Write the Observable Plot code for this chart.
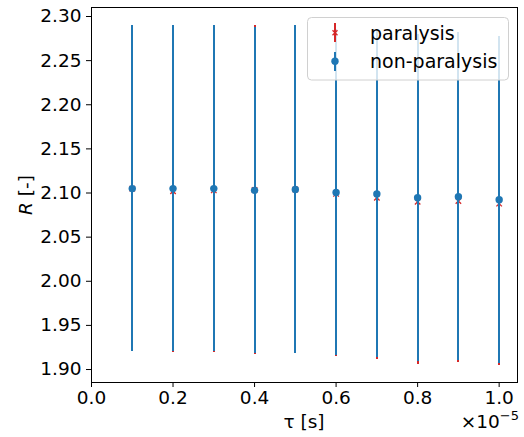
<!DOCTYPE html>
<html>
<head>
<meta charset="utf-8">
<script src="https://cdn.jsdelivr.net/npm/d3@7"></script>
<script src="https://cdn.jsdelivr.net/npm/@observablehq/plot@0.6"></script>
<style>
  html, body { margin: 0; padding: 0; background: #fff; }
  #chart { position: relative; width: 524px; height: 437px; }
</style>
</head>
<body>
<div id="chart"></div>
<script>
const tau = [1e-6, 2e-6, 3e-6, 4e-6, 5e-6, 6e-6, 7e-6, 8e-6, 9e-6, 1e-5];
const nonParalysisMean = [2.105, 2.105, 2.105, 2.103, 2.104, 2.1006, 2.099, 2.0946, 2.0957, 2.0923];
const nonParalysisErr  = [0.185, 0.185, 0.185, 0.185, 0.1855, 0.185, 0.185, 0.185, 0.1857, 0.185];
const paralysisMean = [2.105, 2.102, 2.103, 2.1035, 2.104, 2.099, 2.0946, 2.090, 2.091, 2.088];
const paralysisErr  = [0.185, 0.183, 0.184, 0.186, 0.185, 0.184, 0.183, 0.184, 0.1835, 0.183];
const xTicks = [0, 0.2e-5, 0.4e-5, 0.6e-5, 0.8e-5, 1.0e-5];
const yTicks = [1.90, 1.95, 2.00, 2.05, 2.10, 2.15, 2.20, 2.25, 2.30];
const seriesNames = ["paralysis", "non-paralysis"];

const blue = "#1f77b4", red = "#d62728";
const par = tau.map((t, i) => ({t, m: paralysisMean[i], lo: paralysisMean[i] - paralysisErr[i], hi: paralysisMean[i] + paralysisErr[i]}));
const non = tau.map((t, i) => ({t, m: nonParalysisMean[i], lo: nonParalysisMean[i] - nonParalysisErr[i], hi: nonParalysisMean[i] + nonParalysisErr[i]}));

const W = 524, H = 437;
const plot = Plot.plot({
  width: W, height: H,
  marginLeft: 91, marginRight: 7, marginTop: 7, marginBottom: 55,
  style: {fontSize: "18.5px", fontFamily: "DejaVu Sans", color: "#000", background: "#fff"},
  x: {domain: [0, 1.045e-5]},
  y: {domain: [1.8853, 2.3102]},
  marks: [
    Plot.ruleX(par, {x: "t", y1: "lo", y2: "hi", stroke: red, strokeWidth: 2, shapeRendering: "crispEdges"}),
    Plot.dot(par, {x: "t", y: "m", symbol: "times", r: 2.6, stroke: red, strokeWidth: 1.3}),
    Plot.ruleX(non, {x: "t", y1: "lo", y2: "hi", stroke: blue, strokeWidth: 2, shapeRendering: "crispEdges"}),
    Plot.dot(non, {x: "t", y: "m", r: 3.7, fill: blue, stroke: "none"}),
    Plot.axisX({ticks: xTicks, tickFormat: d => (d * 1e5).toFixed(1), tickSize: 5, tickPadding: 3, label: null, stroke: "#000"}),
    Plot.axisY({ticks: yTicks, tickFormat: d => d.toFixed(2), tickSize: 5, tickPadding: 5, label: null, stroke: "#000"}),
    Plot.frame({stroke: "#000", strokeWidth: 1})
  ]
});
document.getElementById("chart").appendChild(plot);

const svg = d3.select(plot);
const ff = "DejaVu Sans";
// x label
svg.append("text").attr("x", 304).attr("y", 428).attr("text-anchor", "middle")
  .attr("font-family", ff).attr("font-size", "18.5px").attr("fill", "#000").text("τ [s]");
// y label
const yl = svg.append("text").attr("transform", "translate(32,195) rotate(-90)").attr("text-anchor", "middle")
  .attr("font-family", ff).attr("font-size", "18.5px").attr("fill", "#000");
yl.append("tspan").attr("font-style", "italic").text("R");
yl.append("tspan").text(" [-]");
// offset text
const off = svg.append("text").attr("x", 519).attr("y", 428).attr("text-anchor", "end")
  .attr("font-family", ff).attr("font-size", "18.5px").attr("fill", "#000");
off.append("tspan").text("×10");
off.append("tspan").attr("dy", -8).attr("font-size", "13px").text("−5");

// legend
const lg = svg.append("g").attr("text-anchor", "start");
lg.append("rect").attr("x", 307.5).attr("y", 17.5).attr("width", 201).attr("height", 62.5).attr("rx", 4)
  .attr("fill", "rgba(255,255,255,0.8)").attr("stroke", "#d0d0d0").attr("stroke-width", 1);
const mx = 335;
lg.append("line").attr("x1", mx).attr("x2", mx).attr("y1", 22.7).attr("y2", 41.7).attr("stroke", red).attr("stroke-width", 2).attr("shape-rendering", "crispEdges");
lg.append("path").attr("d", `M${mx-2.5},${32.7-2.5}L${mx+2.5},${32.7+2.5}M${mx-2.5},${32.7+2.5}L${mx+2.5},${32.7-2.5}`).attr("stroke", red).attr("stroke-width", 1.3).attr("fill", "none");
lg.append("line").attr("x1", mx).attr("x2", mx).attr("y1", 51.7).attr("y2", 70.7).attr("stroke", blue).attr("stroke-width", 2).attr("shape-rendering", "crispEdges");
lg.append("circle").attr("cx", mx).attr("cy", 61.2).attr("r", 3.7).attr("fill", blue);
lg.append("text").attr("x", 370).attr("y", 40).attr("text-anchor", "start").attr("font-family", ff).attr("font-size", "19px").attr("fill", "#000").text(seriesNames[0]);
lg.append("text").attr("x", 370).attr("y", 68).attr("text-anchor", "start").attr("font-family", ff).attr("font-size", "19px").attr("fill", "#000").text(seriesNames[1]);
</script>
</body>
</html>
